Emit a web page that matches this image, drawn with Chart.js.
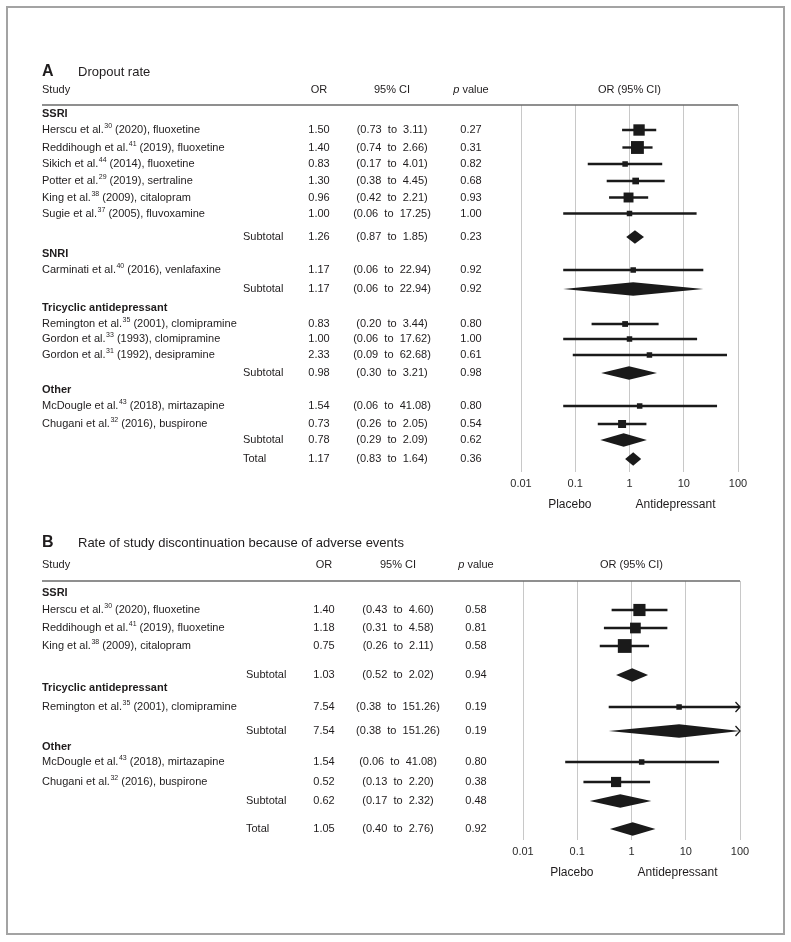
<!DOCTYPE html>
<html><head><meta charset="utf-8">
<script src="https://cdn.jsdelivr.net/npm/chart.js@4.4.1/dist/chart.umd.min.js"></script>
<style>
html,body{margin:0;padding:0;background:#fff;}
body{width:791px;height:942px;position:relative;overflow:hidden;}
#frame{position:absolute;left:6px;top:6px;width:779px;height:929px;border:2px solid #a3a3a3;box-sizing:border-box;}
canvas{position:absolute;left:0;}
#cA{top:40px;} #cB{top:520px;}
</style></head><body>
<div id="frame"></div>
<canvas id="cA" width="791" height="480"></canvas>
<canvas id="cB" width="791" height="400"></canvas>
<script>
// ---------------- DATA ----------------
const xTickValues = [0.01, 0.1, 1, 10, 100];
const xTickLabels = ['0.01', '0.1', '1', '10', '100'];
const sideLabels = ['Placebo', 'Antidepressant'];
const headerLabels = ['Study', 'OR', '95% CI', 'p value', 'OR (95% CI)'];

// Panel A — Dropout rate
const titleA = ['A', 'Dropout rate'];
const groupNamesA = ['SSRI', 'SNRI', 'Tricyclic antidepressant', 'Other'];
const authorsA = ['Herscu', 'Reddihough', 'Sikich', 'Potter', 'King', 'Sugie', 'Carminati', 'Remington', 'Gordon', 'Gordon', 'McDougle', 'Chugani'];
const refsA = ['30', '41', '44', '29', '38', '37', '40', '35', '33', '31', '43', '32'];
const yearsA = ['2020', '2019', '2014', '2019', '2009', '2005', '2016', '2001', '1993', '1992', '2018', '2016'];
const drugsA = ['fluoxetine', 'fluoxetine', 'fluoxetine', 'sertraline', 'citalopram', 'fluvoxamine', 'venlafaxine', 'clomipramine', 'clomipramine', 'desipramine', 'mirtazapine', 'buspirone'];
const studyGroupA = [0, 0, 0, 0, 0, 0, 1, 2, 2, 2, 3, 3];
const orA = [1.50, 1.40, 0.83, 1.30, 0.96, 1.00, 1.17, 0.83, 1.00, 2.33, 1.54, 0.73];
const loA = [0.73, 0.74, 0.17, 0.38, 0.42, 0.06, 0.06, 0.20, 0.06, 0.09, 0.06, 0.26];
const hiA = [3.11, 2.66, 4.01, 4.45, 2.21, 17.25, 22.94, 3.44, 17.62, 62.68, 41.08, 2.05];
const pA = [0.27, 0.31, 0.82, 0.68, 0.93, 1.00, 0.92, 0.80, 1.00, 0.61, 0.80, 0.54];
const subOrA = [1.26, 1.17, 0.98, 0.78];
const subLoA = [0.87, 0.06, 0.30, 0.29];
const subHiA = [1.85, 22.94, 3.21, 2.09];
const subPA = [0.23, 0.92, 0.98, 0.62];
const totalA = [1.17, 0.83, 1.64, 0.36]; // OR, lo, hi, p

// Panel B — Rate of study discontinuation because of adverse events
const titleB = ['B', 'Rate of study discontinuation because of adverse events'];
const groupNamesB = ['SSRI', 'Tricyclic antidepressant', 'Other'];
const authorsB = ['Herscu', 'Reddihough', 'King', 'Remington', 'McDougle', 'Chugani'];
const refsB = ['30', '41', '38', '35', '43', '32'];
const yearsB = ['2020', '2019', '2009', '2001', '2018', '2016'];
const drugsB = ['fluoxetine', 'fluoxetine', 'citalopram', 'clomipramine', 'mirtazapine', 'buspirone'];
const studyGroupB = [0, 0, 0, 1, 2, 2];
const orB = [1.40, 1.18, 0.75, 7.54, 1.54, 0.52];
const loB = [0.43, 0.31, 0.26, 0.38, 0.06, 0.13];
const hiB = [4.60, 4.58, 2.11, 151.26, 41.08, 2.20];
const pB = [0.58, 0.81, 0.58, 0.19, 0.80, 0.38];
const subOrB = [1.03, 7.54, 0.62];
const subLoB = [0.52, 0.38, 0.17];
const subHiB = [2.02, 151.26, 2.32];
const subPB = [0.94, 0.19, 0.48];
const totalB = [1.05, 0.40, 2.76, 0.92];

// ---------------- LAYOUT / STYLE ----------------
const FF = '"Liberation Sans", Arial, Helvetica, sans-serif';
const INK = '#1a1a1a';
const TEXT = '#1f1c1d';
Chart.defaults.font.family = FF;

const layoutA = {
  canvas: 'cA', top: 40, height: 480, plotLeft: 521, plotRight: 738, plotTop: 105, plotBottom: 472,
  titleY: 72, headY: 90, orX: 319, ciX: 392, pX: 471, subX: 243,
  rowGaps: [9, 16, 17.5, 16.5, 17, 16.5, 16, 23.5, 17, 16, 19, 19, 16, 15, 16, 18, 17, 16, 18, 16, 19], endGap: 13
};
const layoutB = {
  canvas: 'cB', top: 520, height: 400, plotLeft: 523, plotRight: 740, plotTop: 581, plotBottom: 840,
  titleY: 543, headY: 565, orX: 324, ciX: 398, pX: 476, subX: 246,
  rowGaps: [12, 17, 18, 18, 29, 13, 19, 24, 16, 15, 20, 19, 28], endGap: 11
};

const panelA = { title: titleA, groups: groupNamesA, authors: authorsA, refs: refsA, years: yearsA, drugs: drugsA,
  grp: studyGroupA, or: orA, lo: loA, hi: hiA, p: pA, subOr: subOrA, subLo: subLoA, subHi: subHiA, subP: subPA, total: totalA };
const panelB = { title: titleB, groups: groupNamesB, authors: authorsB, refs: refsB, years: yearsB, drugs: drugsB,
  grp: studyGroupB, or: orB, lo: loB, hi: hiB, p: pB, subOr: subOrB, subLo: subLoB, subHi: subHiB, subP: subPB, total: totalB };

function buildRows(panel, layout) {
  const rows = [];
  panel.groups.forEach((g, gi) => {
    rows.push({ type: 'group', i: gi });
    panel.grp.forEach((sg, si) => { if (sg === gi) rows.push({ type: 'study', i: si }); });
    rows.push({ type: 'sub', i: gi });
  });
  rows.push({ type: 'total' });
  let acc = 0;
  rows.forEach((r, k) => { acc += layout.rowGaps[k]; r.pos = acc; });
  return { rows, extent: acc + layout.endGap };
}

// Box size from inverse-variance weight (derived from the CI)
function boxSides(panel) {
  const w = panel.lo.map((lo, i) => { const se = (Math.log(panel.hi[i]) - Math.log(lo)) / 3.92; return 1 / (se * se); });
  const W = w.reduce((a, b) => a + b, 0);
  return w.map(v => Math.max(5.5, 24.5 * Math.sqrt(v / W)));
}

const fmt = v => v.toFixed(2);
const ciText = (lo, hi) => '(' + fmt(lo) + '  to  ' + fmt(hi) + ')';

function makeForestPlugin(panel, layout, rows) {
  const off = layout.top;
  function chevron(ctx, x, y) {
    ctx.save(); ctx.lineWidth = 1.3; ctx.beginPath();
    ctx.moveTo(x - 4.5, y - 5); ctx.lineTo(x, y); ctx.lineTo(x - 4.5, y + 5); ctx.stroke(); ctx.restore();
  }
  function center(ctx, t, x, y) { ctx.textAlign = 'center'; ctx.fillText(t, x, y); }
  return {
    id: 'forest',
    beforeDatasetsDraw(chart) {
      const ctx = chart.ctx, xs = chart.scales.x, ys = chart.scales.y;
      ctx.save();
      ctx.strokeStyle = INK; ctx.fillStyle = INK;
      rows.forEach(r => {
        const y = ys.getPixelForValue(r.pos);
        if (r.type === 'study') {
          const lo = panel.lo[r.i], hi = panel.hi[r.i];
          const x1 = xs.getPixelForValue(Math.max(lo, xs.min));
          const x2 = xs.getPixelForValue(Math.min(hi, xs.max));
          ctx.lineWidth = 2.4; ctx.beginPath(); ctx.moveTo(x1, y); ctx.lineTo(x2, y); ctx.stroke();
          if (hi > xs.max) chevron(ctx, x2, y);
        } else if (r.type === 'sub' || r.type === 'total') {
          const or = r.type === 'sub' ? panel.subOr[r.i] : panel.total[0];
          const lo = r.type === 'sub' ? panel.subLo[r.i] : panel.total[1];
          const hi = r.type === 'sub' ? panel.subHi[r.i] : panel.total[2];
          const xl = xs.getPixelForValue(Math.max(lo, xs.min));
          const xm = xs.getPixelForValue(or);
          const xr = xs.getPixelForValue(Math.min(hi, xs.max));
          const h = 6.8;
          ctx.beginPath(); ctx.moveTo(xl, y); ctx.lineTo(xm, y - h); ctx.lineTo(xr, y); ctx.lineTo(xm, y + h); ctx.closePath(); ctx.fill();
          if (hi > xs.max) chevron(ctx, xr, y);
        }
      });
      ctx.restore();
    },
    afterDraw(chart) {
      const ctx = chart.ctx, xs = chart.scales.x, ys = chart.scales.y, ca = chart.chartArea;
      ctx.save();
      ctx.fillStyle = TEXT; ctx.textBaseline = 'middle';
      // title
      ctx.textAlign = 'left';
      ctx.font = 'bold 16px ' + FF; ctx.fillText(panel.title[0], 42, layout.titleY - off);
      ctx.font = '13px ' + FF; ctx.fillText(panel.title[1], 78, layout.titleY - off);
      // header
      const hy = layout.headY - off;
      ctx.font = '11px ' + FF;
      ctx.textAlign = 'left'; ctx.fillText(headerLabels[0], 42, hy);
      center(ctx, headerLabels[1], layout.orX, hy);
      center(ctx, headerLabels[2], layout.ciX, hy);
      // "p value" with italic p
      ctx.font = 'italic 11px ' + FF; const pw1 = ctx.measureText('p').width;
      ctx.font = '11px ' + FF; const pw2 = ctx.measureText(headerLabels[3].slice(1)).width;
      const px0 = layout.pX - (pw1 + pw2) / 2;
      ctx.textAlign = 'left';
      ctx.font = 'italic 11px ' + FF; ctx.fillText('p', px0, hy);
      ctx.font = '11px ' + FF; ctx.fillText(headerLabels[3].slice(1), px0 + pw1, hy);
      center(ctx, headerLabels[4], xs.getPixelForValue(1), hy);
      // header rule
      ctx.strokeStyle = '#6a6a6a'; ctx.lineWidth = 1.6;
      ctx.beginPath(); ctx.moveTo(42, ca.top); ctx.lineTo(ca.right, ca.top); ctx.stroke();
      // rows
      rows.forEach(r => {
        const y = ys.getPixelForValue(r.pos);
        if (r.type === 'group') {
          ctx.font = 'bold 11px ' + FF; ctx.textAlign = 'left';
          ctx.fillText(panel.groups[r.i], 42, y);
        } else if (r.type === 'study') {
          const i = r.i;
          ctx.textAlign = 'left';
          ctx.font = '11px ' + FF;
          const a = panel.authors[i] + ' et al.';
          ctx.fillText(a, 42, y);
          let x = 42 + ctx.measureText(a).width + 0.5;
          ctx.font = '7px ' + FF; ctx.fillText(panel.refs[i], x, y - 3.5);
          x += ctx.measureText(panel.refs[i]).width;
          ctx.font = '11px ' + FF; ctx.fillText(' (' + panel.years[i] + '), ' + panel.drugs[i], x, y);
          center(ctx, fmt(panel.or[i]), layout.orX, y);
          center(ctx, ciText(panel.lo[i], panel.hi[i]), layout.ciX, y);
          center(ctx, fmt(panel.p[i]), layout.pX, y);
        } else {
          const isSub = r.type === 'sub';
          ctx.font = '11px ' + FF; ctx.textAlign = 'left';
          ctx.fillText(isSub ? 'Subtotal' : 'Total', layout.subX, y);
          const or = isSub ? panel.subOr[r.i] : panel.total[0];
          const lo = isSub ? panel.subLo[r.i] : panel.total[1];
          const hi = isSub ? panel.subHi[r.i] : panel.total[2];
          const p = isSub ? panel.subP[r.i] : panel.total[3];
          center(ctx, fmt(or), layout.orX, y);
          center(ctx, ciText(lo, hi), layout.ciX, y);
          center(ctx, fmt(p), layout.pX, y);
        }
      });
      // side labels
      const x1 = xs.getPixelForValue(1);
      const sy = ca.bottom + 33;
      ctx.font = '12px ' + FF;
      ctx.textAlign = 'right'; ctx.fillText(sideLabels[0], x1 - 38, sy);
      ctx.textAlign = 'left'; ctx.fillText(sideLabels[1], x1 + 6, sy);
      ctx.restore();
    }
  };
}

function makePanel(panel, layout) {
  const { rows, extent } = buildRows(panel, layout);
  const sides = boxSides(panel);
  const studyRows = rows.filter(r => r.type === 'study');
  const points = studyRows.map(r => ({ x: panel.or[r.i], y: r.pos }));
  const radii = studyRows.map(r => sides[r.i] / (2 * Math.SQRT1_2));
  const axisH = 24;
  const canvas = document.getElementById(layout.canvas);
  new Chart(canvas, {
    type: 'scatter',
    data: { datasets: [{ data: points, pointStyle: 'rect', pointRadius: radii, pointHoverRadius: radii,
      backgroundColor: INK, borderColor: INK, borderWidth: 0, pointBorderWidth: 0 }] },
    options: {
      responsive: false, animation: false, devicePixelRatio: 1,
      events: [],
      layout: { padding: {
        left: layout.plotLeft, right: 791 - layout.plotRight,
        top: layout.plotTop - layout.top,
        bottom: layout.height - (layout.plotBottom - layout.top) - axisH } },
      plugins: { legend: { display: false }, tooltip: { enabled: false }, title: { display: false } },
      scales: {
        x: {
          type: 'logarithmic', min: xTickValues[0], max: xTickValues[xTickValues.length - 1],
          afterBuildTicks: s => { s.ticks = xTickValues.map(v => ({ value: v })); },
          afterFit: s => { s.height = axisH; },
          ticks: { autoSkip: false, maxRotation: 0, padding: 5, color: '#2a2a2a', font: { size: 11, family: FF },
            callback: (v) => { const k = xTickValues.indexOf(v); return k >= 0 ? xTickLabels[k] : ''; } },
          grid: { color: '#c8c8c8', lineWidth: 1, drawTicks: false },
          border: { display: false }
        },
        y: { type: 'linear', min: 0, max: extent, reverse: true, display: false }
      }
    },
    plugins: [makeForestPlugin(panel, layout, rows)]
  });
}

makePanel(panelA, layoutA);
makePanel(panelB, layoutB);
</script>
</body></html>
